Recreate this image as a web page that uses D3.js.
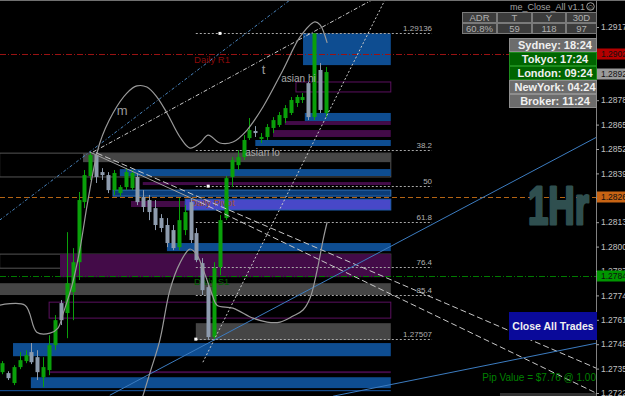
<!DOCTYPE html>
<html>
<head>
<meta charset="utf-8">
<script src="https://cdn.jsdelivr.net/npm/d3@7"></script>
<style>
  html, body { margin: 0; padding: 0; background: #000; overflow: hidden; }
  svg { display: block; font-family: "Liberation Sans", Arial, sans-serif; }
</style>
</head>
<body>
<div id="chart"></div>
<script>
// window and price axis
const WIDTH = 625;
const HEIGHT = 396;
const AXIS_X = 596;
const ZONE_END = 66;      // bar index where the zones stop
const FIB_END = 73;

// H1 candles
const opens  = [1.27331, 1.27326, 1.27273, 1.27358, 1.27390, 1.27438, 1.27411, 1.27304, 1.27342, 1.27475,
                1.27699, 1.27646, 1.27758, 1.27917, 1.28237, 1.28376, 1.28488, 1.28397, 1.28381, 1.28301,
                1.28285, 1.28317, 1.28312, 1.28371, 1.28264, 1.28248, 1.28205, 1.28152, 1.28115, 1.28088,
                1.27997, 1.28088, 1.28237, 1.28072, 1.27912, 1.27784, 1.27518, 1.27891, 1.28152, 1.28371,
                1.28434, 1.28477, 1.28578, 1.28616, 1.28573, 1.28584, 1.28632, 1.28648, 1.28685, 1.28712,
                1.28765, 1.28781, 1.28871, 1.28690, 1.28941, 1.28712];
const highs  = [1.27390, 1.27336, 1.27368, 1.27438, 1.27448, 1.27486, 1.27448, 1.27411, 1.27528, 1.27635,
                1.27715, 1.28077, 1.27992, 1.28291, 1.28408, 1.28504, 1.28504, 1.28418, 1.28397, 1.28408,
                1.28328, 1.28418, 1.28408, 1.28392, 1.28301, 1.28275, 1.28248, 1.28173, 1.28152, 1.28115,
                1.28259, 1.28221, 1.28259, 1.28099, 1.27939, 1.27805, 1.27917, 1.28168, 1.28376, 1.28477,
                1.28514, 1.28594, 1.28685, 1.28642, 1.28605, 1.28653, 1.28690, 1.28717, 1.28754, 1.28797,
                1.28808, 1.28818, 1.28877, 1.29136, 1.28978, 1.28957];
const lows   = [1.27320, 1.27289, 1.27262, 1.27347, 1.27379, 1.27374, 1.27289, 1.27251, 1.27315, 1.27448,
                1.27582, 1.27512, 1.27608, 1.27822, 1.28205, 1.28355, 1.28339, 1.28355, 1.28285, 1.28275,
                1.28269, 1.28301, 1.28301, 1.28221, 1.28184, 1.28141, 1.28088, 1.28077, 1.27997, 1.27981,
                1.27981, 1.28061, 1.28019, 1.27917, 1.27742, 1.27502, 1.27502, 1.27848, 1.28141, 1.28317,
                1.28408, 1.28461, 1.28568, 1.28584, 1.28552, 1.28568, 1.28605, 1.28637, 1.28658, 1.28701,
                1.28744, 1.28765, 1.28674, 1.28674, 1.28712, 1.28690];
const closes = [1.27379, 1.27299, 1.27358, 1.27395, 1.27422, 1.27384, 1.27331, 1.27358, 1.27475, 1.27608,
                1.27608, 1.27805, 1.27917, 1.28248, 1.28381, 1.28488, 1.28371, 1.28381, 1.28301, 1.28392,
                1.28317, 1.28397, 1.28392, 1.28237, 1.28211, 1.28184, 1.28115, 1.28099, 1.28019, 1.27992,
                1.28141, 1.28184, 1.28035, 1.27928, 1.27768, 1.27518, 1.27885, 1.28141, 1.28365, 1.28461,
                1.28477, 1.28568, 1.28621, 1.28605, 1.28584, 1.28637, 1.28674, 1.28701, 1.28738, 1.28781,
                1.28797, 1.28797, 1.28690, 1.29136, 1.28728, 1.28930];

const priceTicks = [1.29170, 1.29040, 1.28910, 1.28780, 1.28650, 1.28520, 1.28390, 1.28260,
                    1.28130, 1.28000, 1.27870, 1.27740, 1.27610, 1.27480, 1.27350, 1.27220];

// supply / demand zones: [start bar, end bar, top, bottom]
const blueZones = [[51.1, ZONE_END, 1.29136, 1.28967], [51.4, ZONE_END, 1.28712, 1.28669],
                   [43, ZONE_END, 1.28568, 1.28536], [20, ZONE_END, 1.28413, 1.28376],
                   [28, ZONE_END, 1.28019, 1.27976], [1.87, ZONE_END, 1.27486, 1.27416],
                   [4.9, ZONE_END, 1.27304, 1.27246]];
const blueFrames = [[18.85, ZONE_END, 1.28301, 1.28269]];
const purpleZones = [[48, ZONE_END, 1.28669, 1.28648], [46, ZONE_END, 1.28621, 1.28584],
                     [23.9, ZONE_END, 1.28344, 1.28328], [21.9, 31.1, 1.28243, 1.28211],
                     [9.85, ZONE_END, 1.27960, 1.27837], [8.15, ZONE_END, 1.27336, 1.27326]];
const purpleFrames = [[49.9, ZONE_END, 1.28877, 1.28824], [8, ZONE_END, 1.27704, 1.27619]];
const greyZones = [[13.75, ZONE_END, 1.28498, 1.28450], [-0.4, ZONE_END, 1.27805, 1.27742],
                   [32.9, ZONE_END, 1.27592, 1.27502]];
const greyFrames = [[-0.4, ZONE_END, 1.28498, 1.28371], [-0.4, ZONE_END, 1.27960, 1.27885]];
const pivotZones = [[31.1, ZONE_END, 1.28253, 1.28195]];
const blueLevels = [[-0.4, ZONE_END, 1.27235]];

// daily pivots
const pivotNames = ['Daily R1', 'Daily Pivot', 'Daily S1'];
const pivotPrices = [1.29025, 1.28263, 1.27843];
const pivotLabelBars = [32.6, 31.9, 32.6];

// fibonacci
const fibLabels = ['1.29136', '38.2', '50', '61.8', '76.4', '85.4', '1.27507'];
const fibPrices = [1.29136, 1.28514, 1.28322, 1.28131, 1.27891, 1.27742, 1.27507];
const fibStart = 32.9;
const fibDots = [[37.0, 1.29136], [35.0, 1.28322], [32.9, 1.27507]];

// right axis markers
const markerPrices = [1.29025, 1.28920, 1.28263, 1.27843];

// indicator curves [bar, price]
const curveM = [[-0.4, 1.27688], [3.9, 1.27688], [5.9, 1.27544], [8.15, 1.27539], [9.5, 1.27566],
                [10.4, 1.27646], [11.9, 1.27795], [13.2, 1.27981], [14.6, 1.28248], [16.6, 1.28552],
                [18.85, 1.28712], [21.2, 1.28818], [22.9, 1.28856], [24.6, 1.28850], [26.3, 1.28797],
                [28, 1.28712], [30.2, 1.28584], [31.9, 1.28525], [33.6, 1.28552], [35, 1.28594],
                [37, 1.28552], [39.2, 1.28557], [41.6, 1.28621], [44.3, 1.28744], [47.7, 1.28941],
                [50.6, 1.29117], [53.1, 1.29197], [54, 1.29181], [55.2, 1.29085]];
const curveB = [[23.9, 1.27203], [25.1, 1.27326], [26.8, 1.27502], [28.5, 1.27768], [30.2, 1.27912],
                [31.9, 1.27987], [33.1, 1.27955], [34.5, 1.27848], [35.7, 1.27742], [36.5, 1.27688],
                [39.2, 1.27672], [42.6, 1.27619], [45, 1.27598], [47.2, 1.27598], [49.4, 1.27630],
                [51.1, 1.27662], [52.3, 1.27726], [53.5, 1.27875], [54.5, 1.28035], [55.2, 1.28131]];

// trend lines [bar, price] pairs
const blueDotLine = [[-0.4, 1.28141], [48.9, 1.29314]];
const tLine = [[15.45, 1.28504], [62.8, 1.29314]];
const steepLine = [[34.1, 1.27384], [65, 1.29314]];
const fanLine1 = [[16.1, 1.28498], [100.9, 1.27352]];
const fanLine2Solid = [[14.9, 1.28504], [33.6, 1.28237]];
const fanLine2 = [[33.6, 1.28237], [100.9, 1.27219]];
const blueLine1 = [[18.3, 1.27208], [101, 1.28584]];
const blueLine2 = [[56.2, 1.27203], [101, 1.27486]];

// panels
const adrHeaders = ['ADR', 'T', 'Y', '30D'];
const adrValues = ['60.8%', '59', '118', '97'];
const sessionNames = ['Sydney', 'Tokyo', 'London', 'NewYork', 'Broker'];
const sessionTimes = ['18:24', '17:24', '09:24', '04:24', '11:24'];
const sessionOpen = [false, true, true, false, false];

const svg = d3.select('#chart')
    .append('svg')
        .attr('width', WIDTH)
        .attr('height', HEIGHT);

svg.append('rect')
    .attr('width', WIDTH)
    .attr('height', HEIGHT)
    .attr('fill', '#000');

svg.append('defs').append('clipPath')
    .attr('id', 'plot')
    .append('rect')
        .attr('width', AXIS_X)
        .attr('height', HEIGHT);

const x = d3.scaleLinear().domain([0, 55]).range([2, 326]);
const y = d3.scaleLinear().domain([1.27220, 1.29170]).range([393, 27]);

const plot = svg.append('g').attr('clip-path', 'url(#plot)');

function zoneRects(data, fill, stroke) {
    plot.append('g')
        .selectAll('rect')
        .data(data)
        .join('rect')
            .attr('x', d => x(d[0]))
            .attr('y', d => y(d[2]))
            .attr('width', d => x(d[1]) - x(d[0]))
            .attr('height', d => y(d[3]) - y(d[2]))
            .attr('fill', fill)
            .attr('stroke', stroke)
            .attr('stroke-width', 1);
}

zoneRects(greyFrames, 'none', '#555');
zoneRects(greyZones, '#454545', 'none');
zoneRects(purpleZones, '#430b48', 'none');
zoneRects(blueZones, '#0e4d91', 'none');
zoneRects(blueFrames, '#0a3c78', '#2f6fb5');
zoneRects(pivotZones, '#4848c8', '#1f5fb0');
zoneRects(purpleFrames, 'none', '#5c1060');

plot.append('g')
    .selectAll('line')
    .data(blueLevels)
    .join('line')
        .attr('x1', d => x(d[0]))
        .attr('x2', d => x(d[1]))
        .attr('y1', d => y(d[2]) + 0.5)
        .attr('y2', d => y(d[2]) + 0.5)
        .attr('stroke', '#1a5aa6');

// pivot lines across the whole chart
const pivotColors = ['#9a1212', '#b46414', '#007a00'];
const pivotDash = ['6,2,1,2', '5,3', '6,2,1,2'];
const pivotText = ['#8b0a0a', '#a0522d', '#006400'];
plot.append('g')
    .selectAll('line')
    .data(pivotPrices)
    .join('line')
        .attr('x1', 0)
        .attr('x2', AXIS_X)
        .attr('y1', d => Math.round(y(d)) + 0.5)
        .attr('y2', d => Math.round(y(d)) + 0.5)
        .attr('stroke', (d, i) => pivotColors[i])
        .attr('stroke-dasharray', (d, i) => pivotDash[i]);

plot.append('g')
    .selectAll('text')
    .data(pivotNames)
    .join('text')
        .text(d => d)
        .attr('x', (d, i) => x(pivotLabelBars[i]))
        .attr('y', (d, i) => y(pivotPrices[i]) + 9)
        .attr('fill', (d, i) => pivotText[i])
        .attr('font-size', 9.5);

// fib levels
plot.append('g')
    .selectAll('line')
    .data(fibPrices)
    .join('line')
        .attr('x1', x(fibStart))
        .attr('x2', x(FIB_END))
        .attr('y1', d => Math.round(y(d)) + 0.5)
        .attr('y2', d => Math.round(y(d)) + 0.5)
        .attr('stroke', '#a8a8a8')
        .attr('stroke-dasharray', '2,2');

plot.append('g')
    .selectAll('text')
    .data(fibLabels)
    .join('text')
        .text(d => d)
        .attr('x', x(FIB_END))
        .attr('y', (d, i) => y(fibPrices[i]) - 2)
        .attr('text-anchor', 'end')
        .attr('fill', '#b0b0b0')
        .attr('font-size', 8);

plot.append('g')
    .selectAll('rect')
    .data(fibDots)
    .join('rect')
        .attr('x', d => x(d[0]) - 1.5)
        .attr('y', d => y(d[1]) - 1.5)
        .attr('width', 3)
        .attr('height', 3)
        .attr('fill', '#fff');

// candles
const bars = d3.range(opens.length).map(i => ({
    i: i, o: opens[i], h: highs[i], l: lows[i], c: closes[i],
}));
const upColor = '#0aa00a';
const downColor = '#8e9cae';
const candles = plot.append('g').selectAll('g')
    .data(bars)
    .join('g');
candles.append('line')
    .attr('x1', d => Math.round(x(d.i)) + 0.5)
    .attr('x2', d => Math.round(x(d.i)) + 0.5)
    .attr('y1', d => y(d.h))
    .attr('y2', d => y(d.l))
    .attr('stroke', d => d.c >= d.o ? upColor : downColor);
candles.append('rect')
    .attr('x', d => Math.round(x(d.i)) - 1.5)
    .attr('y', d => y(Math.max(d.o, d.c)))
    .attr('width', 4)
    .attr('height', d => Math.max(1, Math.abs(y(d.o) - y(d.c))))
    .attr('fill', d => d.c >= d.o ? upColor : downColor);

// trend lines
const seg = d3.line().x(d => x(d[0])).y(d => y(d[1]));
function trend(data, color, dash, width) {
    plot.append('path')
        .attr('d', seg(data))
        .attr('fill', 'none')
        .attr('stroke', color)
        .attr('stroke-width', width || 1)
        .attr('stroke-dasharray', dash);
}
trend(blueDotLine, '#4a86c0', '3,2,1,2');
trend(tLine, '#c8c8c8', '4,2,1,2');
trend(steepLine, '#c8c8c8', '2,2');
trend(fanLine1, '#c8c8c8', '6,3');
trend(fanLine2Solid, '#a0a0a0', null);
trend(fanLine2, '#c8c8c8', '6,3');
trend(blueLine1, '#3c7cc0', null);
trend(blueLine2, '#3c7cc0', null);

// indicator curves
const smooth = d3.line().x(d => x(d[0])).y(d => y(d[1])).curve(d3.curveCatmullRom);
[curveM, curveB].forEach(c => {
    plot.append('path')
        .attr('d', smooth(c))
        .attr('fill', 'none')
        .attr('stroke', '#9a9a9a')
        .attr('stroke-width', 1.2);
});

const curveLabels = [['m', 19.5, 1.28700], ['t', 44.1, 1.28920]];
plot.append('g')
    .selectAll('text')
    .data(curveLabels)
    .join('text')
        .text(d => d[0])
        .attr('x', d => x(d[1]))
        .attr('y', d => y(d[2]))
        .attr('fill', '#9a9a9a')
        .attr('font-size', 13);

const asianLabels = [['asian hi', 47.4, 1.28877], ['asian lo', 41.3, 1.28482]];
plot.append('g')
    .selectAll('text')
    .data(asianLabels)
    .join('text')
        .text(d => d[0])
        .attr('x', d => x(d[1]))
        .attr('y', d => y(d[2]))
        .attr('fill', '#a8a8a8')
        .attr('font-size', 10);

// frame
svg.append('line')
    .attr('x1', 0).attr('x2', WIDTH)
    .attr('y1', 0.5).attr('y2', 0.5)
    .attr('stroke', '#707070');
svg.append('line')
    .attr('x1', AXIS_X + 0.5).attr('x2', AXIS_X + 0.5)
    .attr('y1', 0).attr('y2', HEIGHT)
    .attr('stroke', '#808080');

// price axis
const yAxis = d3.axisRight(y)
    .tickValues(priceTicks)
    .tickFormat(d3.format('.5f'))
    .tickSize(3)
    .tickPadding(2);
const axisG = svg.append('g')
    .attr('transform', 'translate(' + AXIS_X + ',0)')
    .call(yAxis);
axisG.select('.domain').remove();
axisG.selectAll('line').attr('stroke', '#a0a0a0');
axisG.selectAll('text')
    .attr('fill', '#c0c0c0')
    .attr('font-size', 8.5)
    .attr('font-family', '"Liberation Sans", Arial, sans-serif');

const markerFill = ['#b40000', '#9a9a9a', '#c86414', '#009600'];
const markers = svg.append('g').selectAll('g')
    .data(markerPrices)
    .join('g')
        .attr('transform', d => 'translate(' + AXIS_X + ',' + Math.round(y(d)) + ')');
markers.append('rect')
    .attr('x', 1)
    .attr('y', -5.5)
    .attr('width', WIDTH - AXIS_X)
    .attr('height', 11)
    .attr('fill', (d, i) => markerFill[i]);
markers.append('text')
    .text(d => d3.format('.5f')(d))
    .attr('x', 5)
    .attr('y', 3)
    .attr('fill', '#101010')
    .attr('font-size', 8.5);

// 1Hr watermark
svg.append('text')
    .text('1Hr')
    .attr('x', 528)
    .attr('y', 224)
    .attr('fill', '#2f4f4f')
    .attr('stroke', '#2f4f4f')
    .attr('stroke-width', 3)
    .attr('stroke-linejoin', 'round')
    .attr('font-weight', 'bold')
    .attr('font-size', 54)
    .attr('textLength', 61)
    .attr('lengthAdjust', 'spacingAndGlyphs');

// title
svg.append('text')
    .text('me_Close_All v1.1')
    .attr('x', 585)
    .attr('y', 10)
    .attr('text-anchor', 'end')
    .attr('fill', '#a0a0a0')
    .attr('font-size', 9);
svg.append('circle')
    .attr('cx', 590.5).attr('cy', 6.5).attr('r', 3.8)
    .attr('fill', 'none').attr('stroke', '#a0a0a0');
svg.append('text')
    .text('\u263A')
    .attr('x', 590.5).attr('y', 9.5)
    .attr('text-anchor', 'middle')
    .attr('fill', '#a0a0a0')
    .attr('font-size', 8);

// ADR table
const colX = [462, 497, 532, 566, 597];
const rowY = [12, 23, 34];
[adrHeaders, adrValues].forEach((row, r) => {
    row.forEach((label, c) => {
        svg.append('rect')
            .attr('x', colX[c] + 0.5)
            .attr('y', rowY[r] + 0.5)
            .attr('width', colX[c + 1] - colX[c] - 1)
            .attr('height', rowY[r + 1] - rowY[r] - 1)
            .attr('fill', '#3c3c3c')
            .attr('stroke', '#7a7a7a');
        svg.append('text')
            .text(label)
            .attr('x', (colX[c] + colX[c + 1]) / 2)
            .attr('y', rowY[r] + 9)
            .attr('text-anchor', 'middle')
            .attr('fill', '#b0b0b0')
            .attr('font-size', 9.5);
    });
});

// session clocks
const sessions = svg.append('g').selectAll('g')
    .data(sessionNames)
    .join('g')
        .attr('transform', (d, i) => 'translate(509,' + (38 + i * 14) + ')');
sessions.append('rect')
    .attr('x', 0.5).attr('y', 0.5)
    .attr('width', 87).attr('height', 13)
    .attr('fill', (d, i) => sessionOpen[i] ? '#006400' : '#6c6c6c')
    .attr('stroke', (d, i) => sessionOpen[i] ? '#1c8c1c' : '#8e8e8e');
sessions.append('text')
    .text((d, i) => d + ': ' + sessionTimes[i])
    .attr('x', 46)
    .attr('y', 11)
    .attr('text-anchor', 'middle')
    .attr('fill', '#f0f0f0')
    .attr('font-weight', 'bold')
    .attr('font-size', 11);

// close button
svg.append('rect')
    .attr('x', 509).attr('y', 312)
    .attr('width', 88).attr('height', 28)
    .attr('fill', '#0a0a9a');
svg.append('text')
    .text('Close All Trades')
    .attr('x', 553)
    .attr('y', 330)
    .attr('text-anchor', 'middle')
    .attr('fill', '#f0f0f0')
    .attr('font-weight', 'bold')
    .attr('font-size', 10.5);

svg.append('text')
    .text('Pip Value = $7.76 @ 1.00')
    .attr('x', 596)
    .attr('y', 381)
    .attr('text-anchor', 'end')
    .attr('fill', '#008000')
    .attr('font-size', 10);

svg.append('rect')
    .attr('x', 500).attr('y', 393)
    .attr('width', 96).attr('height', 3)
    .attr('fill', '#303030');
</script>
</body>
</html>
